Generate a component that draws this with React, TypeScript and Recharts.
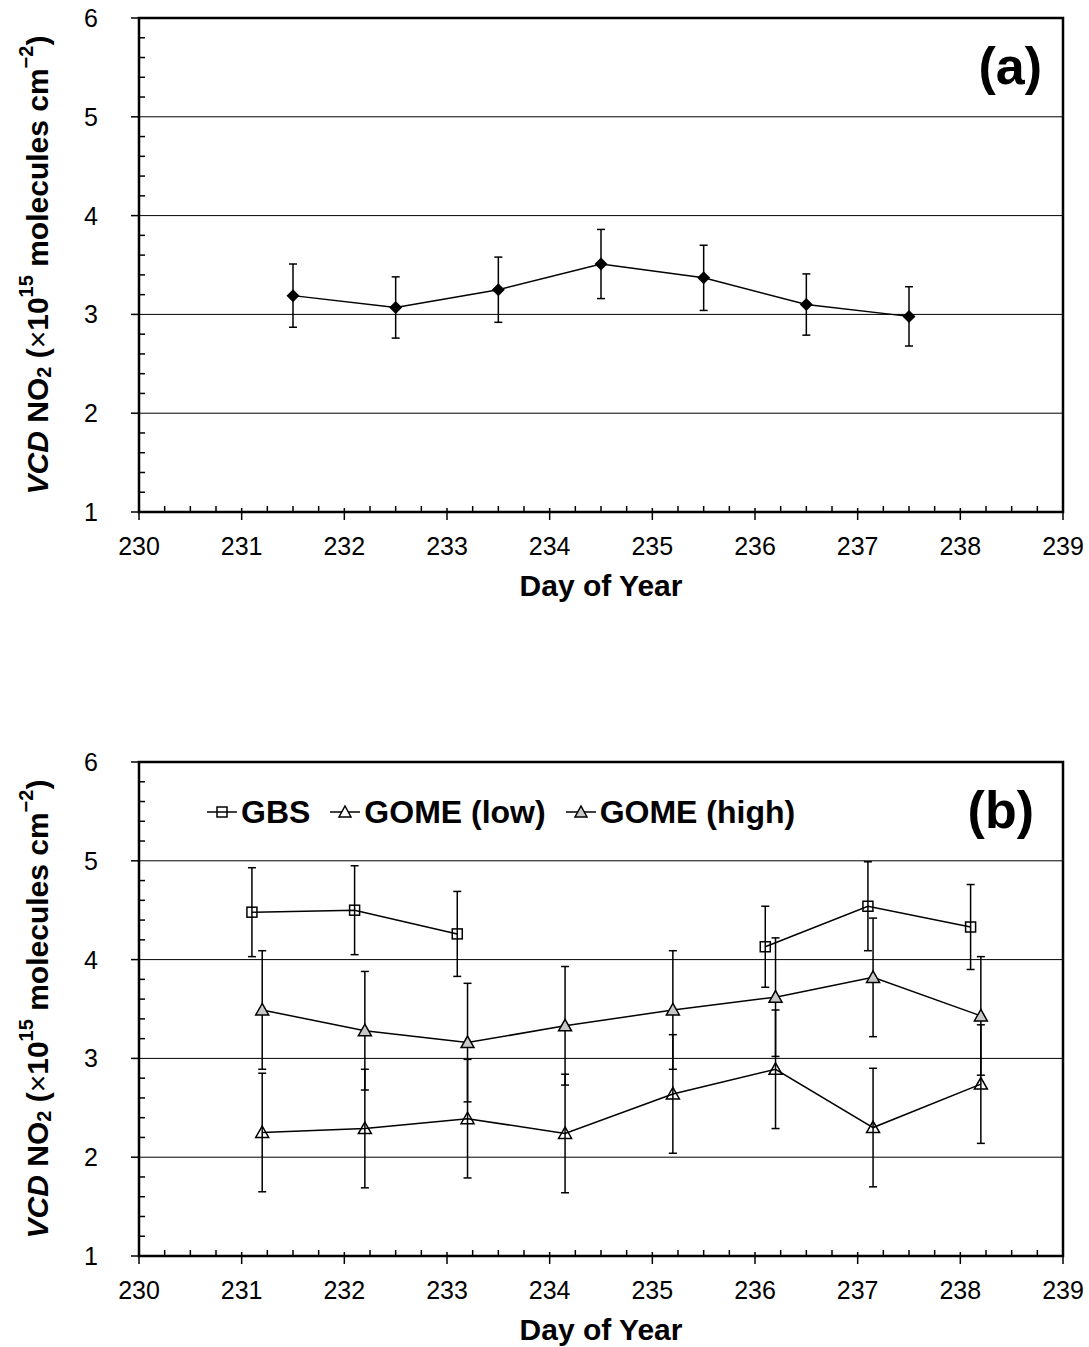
import React from 'react';
import {
  LineChart,
  Line,
  XAxis,
  YAxis,
  ErrorBar,
  ReferenceLine,
  ReferenceArea,
  Label,
} from 'recharts';

const FONT = '"Liberation Sans", Arial, Helvetica, sans-serif';

// panel (a) - GBS daily means
const daysA = [231.5, 232.5, 233.5, 234.5, 235.5, 236.5, 237.5];
const vcdA = [3.19, 3.07, 3.25, 3.51, 3.37, 3.1, 2.98];
const errA = [0.32, 0.31, 0.33, 0.35, 0.33, 0.31, 0.3];

// panel (b) - GBS vs GOME (GBS has no data on 234-235, so it is drawn in two runs)
const daysGbs = [231.1, 232.1, 233.1, 236.1, 237.1, 238.1];
const vcdGbs = [4.48, 4.5, 4.26, 4.13, 4.54, 4.33];
const errGbs = [0.45, 0.45, 0.43, 0.41, 0.45, 0.43];

const daysGome = [231.2, 232.2, 233.2, 234.15, 235.2, 236.2, 237.15, 238.2];
const vcdGomeLow = [2.25, 2.29, 2.39, 2.24, 2.64, 2.89, 2.3, 2.74];
const vcdGomeHigh = [3.49, 3.28, 3.16, 3.33, 3.49, 3.62, 3.82, 3.43];
const errGome = [0.6, 0.6, 0.6, 0.6, 0.6, 0.6, 0.6, 0.6];

// axes
const dayLabels = [230, 231, 232, 233, 234, 235, 236, 237, 238, 239];
const vcdLabels = [1, 2, 3, 4, 5, 6];
const gridValues = [2, 3, 4, 5];

const xTicks = dayLabels.flatMap((d) => (d < 239 ? [d, d + 0.25, d + 0.5, d + 0.75] : [d]));
const yTicks = vcdLabels.flatMap((v) =>
  v < 6 ? [v, v + 0.2, v + 0.4, v + 0.6, v + 0.8].map((t) => Math.round(t * 10) / 10) : [v]
);

const toRows = (days: number[], vals: number[], errs: number[]) =>
  days.map((d, i) => ({ day: d, vcd: vals[i], err: errs[i] }));

const dataA = toRows(daysA, vcdA, errA);
const dataGbs = toRows(daysGbs, vcdGbs, errGbs);
const gbsRuns = [dataGbs.slice(0, 3), dataGbs.slice(3)];
const dataLow = toRows(daysGome, vcdGomeLow, errGome);
const dataHigh = toRows(daysGome, vcdGomeHigh, errGome);

const XTick = ({ x, y, payload }: any) => {
  const v = payload.value;
  if (!Number.isInteger(v)) {
    return <line x1={x} x2={x} y1={y} y2={y - 6} stroke="#000" strokeWidth={1.5} />;
  }
  return (
    <g>
      <line x1={x} x2={x} y1={y - 4} y2={y + 8} stroke="#000" strokeWidth={1.5} />
      <text x={x} y={y + 43} textAnchor="middle" fontSize={25} fontFamily={FONT} fill="#000">
        {v}
      </text>
    </g>
  );
};

const YTick = ({ x, y, payload }: any) => {
  const v = payload.value;
  if (!Number.isInteger(v)) {
    return <line x1={x} x2={x + 6} y1={y} y2={y} stroke="#000" strokeWidth={1.5} />;
  }
  return (
    <g>
      <line x1={x - 8} x2={x} y1={y} y2={y} stroke="#000" strokeWidth={1.5} />
      <text x={x - 41} y={y} dy="0.36em" textAnchor="end" fontSize={25} fontFamily={FONT} fill="#000">
        {v}
      </text>
    </g>
  );
};

const XTitle = ({ viewBox }: any) => (
  <text
    x={viewBox.x + viewBox.width / 2}
    y={viewBox.y + 84}
    textAnchor="middle"
    fontFamily={FONT}
    fontWeight="bold"
    fontSize={30}
    fill="#000"
  >
    Day of Year
  </text>
);

const YTitle = ({ viewBox }: any) => {
  const cx = 37;
  const cy = viewBox.y + viewBox.height / 2;
  return (
    <text
      x={cx}
      y={cy}
      transform={`rotate(-90, ${cx}, ${cy})`}
      textAnchor="middle"
      dominantBaseline="central"
      fontFamily={FONT}
      fontWeight="bold"
      fontSize={30}
      fill="#000"
    >
      <tspan fontStyle="italic">VCD</tspan>
      <tspan> NO</tspan>
      <tspan fontSize={20} dy={7}>2</tspan>
      <tspan dy={-7}> (</tspan>
      <tspan fontWeight="normal">×</tspan>
      <tspan>10</tspan>
      <tspan fontSize={20} dy={-11}>15</tspan>
      <tspan dy={11}> molecules cm</tspan>
      <tspan fontSize={20} dy={-11}>−2</tspan>
      <tspan dy={11}>)</tspan>
    </text>
  );
};

const diamond = ({ cx, cy, index }: any) => (
  <path key={index} d={`M${cx},${cy - 6.5}L${cx + 6.5},${cy}L${cx},${cy + 6.5}L${cx - 6.5},${cy}Z`} fill="#000" />
);
const square = ({ cx, cy, index }: any) => (
  <rect key={index} x={cx - 5} y={cy - 5} width={10} height={10} fill="none" stroke="#000" strokeWidth={1.5} />
);
const triangle = (fill: string) => ({ cx, cy, index }: any) => (
  <path
    key={index}
    d={`M${cx},${cy - 6.5}L${cx + 6.5},${cy + 5}L${cx - 6.5},${cy + 5}Z`}
    fill={fill}
    stroke="#000"
    strokeWidth={1.5}
  />
);

const Frame = ({ children, height, marginBottom }: any) => (
  <LineChart width={1089} height={height} margin={{ top: 18, right: 26, bottom: marginBottom, left: 0 }}>
    <XAxis
      dataKey="day"
      type="number"
      domain={[230, 239]}
      ticks={xTicks}
      interval={0}
      allowDataOverflow
      axisLine={false}
      tickLine={false}
      tickSize={0}
      tickMargin={0}
      height={60}
      tick={<XTick />}
    >
      <Label content={XTitle} />
    </XAxis>
    <YAxis
      type="number"
      domain={[1, 6]}
      ticks={yTicks}
      interval={0}
      allowDataOverflow
      axisLine={false}
      tickLine={false}
      tickSize={0}
      tickMargin={0}
      width={139}
      tick={<YTick />}
    >
      <Label content={YTitle} />
    </YAxis>
    {gridValues.map((g) => (
      <ReferenceLine key={g} y={g} stroke="#000" strokeWidth={1} />
    ))}
    <ReferenceArea x1={230} x2={239} y1={1} y2={6} fill="none" stroke="#000" strokeWidth={2.5} />
    {children}
  </LineChart>
);

const errorBar = <ErrorBar dataKey="err" direction="y" width={4} stroke="#000" strokeWidth={1.5} />;

const LegendIcon = ({ kind }: { kind: string }) => (
  <svg width={30} height={20} style={{ display: 'block' }}>
    <line x1={0} x2={30} y1={10} y2={10} stroke="#000" strokeWidth={1.5} />
    {kind === 'square' ? (
      <rect x={10} y={5} width={10} height={10} fill="none" stroke="#000" strokeWidth={1.5} />
    ) : (
      <path d="M15,4L21,15L9,15Z" fill={kind === 'high' ? '#c8c8c8' : '#fff'} stroke="#000" strokeWidth={1.5} />
    )}
  </svg>
);

const legendItems = [
  { name: 'GBS', kind: 'square' },
  { name: 'GOME (low)', kind: 'low' },
  { name: 'GOME (high)', kind: 'high' },
];

const panelTag = (top: number, right: number): React.CSSProperties => ({
  position: 'absolute',
  top,
  right,
  fontFamily: FONT,
  fontWeight: 'bold',
  fontSize: 52,
  lineHeight: '60px',
});

export default function App() {
  return (
    <div style={{ position: 'absolute', left: 0, top: 0, width: 1089, height: 1347, background: '#fff' }}>
      <div style={{ position: 'absolute', left: 0, top: 0 }}>
        <Frame height={620} marginBottom={48}>
          <Line
            data={dataA}
            dataKey="vcd"
            type="linear"
            stroke="#000"
            strokeWidth={1.5}
            dot={diamond}
            activeDot={false}
            isAnimationActive={false}
          >
            {errorBar}
          </Line>
        </Frame>
      </div>
      <div style={panelTag(36, 47)}>(a)</div>

      <div style={{ position: 'absolute', left: 0, top: 744 }}>
        <Frame height={603} marginBottom={31}>
          {gbsRuns.map((run, i) => (
            <Line
              key={i}
              data={run}
              dataKey="vcd"
              name="GBS"
              type="linear"
              stroke="#000"
              strokeWidth={1.5}
              dot={square}
              activeDot={false}
              isAnimationActive={false}
            >
              {errorBar}
            </Line>
          ))}
          <Line
            data={dataLow}
            dataKey="vcd"
            name="GOME (low)"
            type="linear"
            stroke="#000"
            strokeWidth={1.5}
            dot={triangle('none')}
            activeDot={false}
            isAnimationActive={false}
          >
            {errorBar}
          </Line>
          <Line
            data={dataHigh}
            dataKey="vcd"
            name="GOME (high)"
            type="linear"
            stroke="#000"
            strokeWidth={1.5}
            dot={triangle('#c8c8c8')}
            activeDot={false}
            isAnimationActive={false}
          >
            {errorBar}
          </Line>
        </Frame>
      </div>
      <div style={panelTag(780, 55)}>(b)</div>

      <div
        style={{
          position: 'absolute',
          top: 795,
          left: 207,
          display: 'flex',
          alignItems: 'center',
          fontFamily: FONT,
          fontWeight: 'bold',
          fontSize: 32,
          lineHeight: '34px',
        }}
      >
        {legendItems.map((it, i) => (
          <div key={it.name} style={{ display: 'flex', alignItems: 'center', marginRight: i < 2 ? 20 : 0 }}>
            <LegendIcon kind={it.kind} />
            <span style={{ marginLeft: 4 }}>{it.name}</span>
          </div>
        ))}
      </div>
    </div>
  );
}
